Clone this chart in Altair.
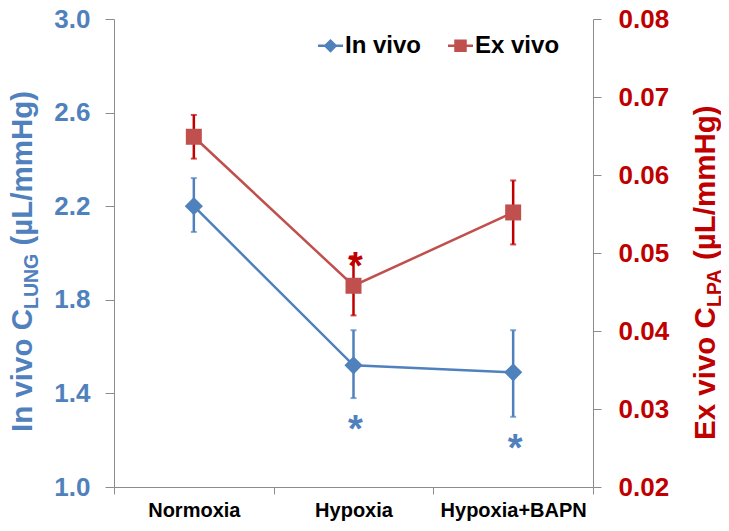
import altair as alt
import pandas as pd

# ---- data ----
cats = ["Normoxia", "Hypoxia", "Hypoxia+BAPN"]
series_names = ["In vivo", "Ex vivo"]

invivo = [2.20, 1.52, 1.49]
invivo_lo = [2.09, 1.38, 1.30]
invivo_hi = [2.32, 1.67, 1.67]

exvivo = [0.0649, 0.0458, 0.0552]
exvivo_lo = [0.0621, 0.0420, 0.0511]
exvivo_hi = [0.0677, 0.0496, 0.0593]

sig_invivo = ["", "*", "*"]
sig_exvivo = ["", "*", ""]

left_ticks = [1.0, 1.4, 1.8, 2.2, 2.6, 3.0]
right_ticks = [0.02, 0.03, 0.04, 0.05, 0.06, 0.07, 0.08]

# ---- styles ----
BLUE = "#4F81BD"
RED = "#C0504D"
DKRED = "#C00000"
GRAY = "#8C8C8C"
FONT = "Liberation Sans"

df = pd.DataFrame({
    "cat": cats,
    "iv": invivo, "iv_lo": invivo_lo, "iv_hi": invivo_hi,
    "ev": exvivo, "ev_lo": exvivo_lo, "ev_hi": exvivo_hi,
    "sig_iv": sig_invivo, "sig_ev": sig_exvivo,
})

one = pd.DataFrame({"k": [0]})

x_scale = alt.Scale(type="band", paddingInner=0, paddingOuter=0)
x_enc = alt.X(
    "cat:N", sort=cats, scale=x_scale,
    axis=alt.Axis(title=None, tickBand="extent", labelAngle=0, labelFontSize=20,
                  labelFontWeight="bold", labelColor="black", labelFont=FONT,
                  tickColor=GRAY, domainColor=GRAY, tickSize=7, labelPadding=6,
                  grid=False),
)
xs = alt.X("cat:N", sort=cats)

yl_scale = alt.Scale(domain=[1.0, 3.0], nice=False, zero=False)
yr_scale = alt.Scale(domain=[0.02, 0.08], nice=False, zero=False)

left_axis = alt.Axis(orient="left", values=left_ticks, format=".1f", labelColor=BLUE,
                     labelFontSize=26, labelFontWeight="bold", labelFont=FONT,
                     tickSize=9, tickColor=GRAY, domainColor=GRAY, labelPadding=15,
                     grid=False, title=None, labelOverlap=False, labelFlush=False)
right_axis = alt.Axis(orient="right", values=right_ticks, format=".2f", labelColor=DKRED,
                      labelFontSize=26, labelFontWeight="bold", labelFont=FONT,
                      tickSize=8, tickColor=GRAY, domainColor=GRAY, labelPadding=17,
                      grid=False, title=None, labelOverlap=False, labelFlush=False)

base = alt.Chart(df)

# ---- in vivo (left axis) ----
iv_line = base.mark_line(color=BLUE, strokeWidth=2.5).encode(
    x=x_enc, y=alt.Y("iv:Q", scale=yl_scale, axis=left_axis))
iv_err = base.mark_rule(color=BLUE, strokeWidth=2.5).encode(
    x=xs, y=alt.Y("iv_lo:Q"), y2="iv_hi:Q")
iv_cap_lo = base.mark_tick(color=BLUE, thickness=2, size=6).encode(x=xs, y="iv_lo:Q")
iv_cap_hi = base.mark_tick(color=BLUE, thickness=2, size=6).encode(x=xs, y="iv_hi:Q")
iv_pts = base.mark_point(shape="diamond", filled=True, opacity=1, color=BLUE, size=330).encode(
    x=xs, y="iv:Q")
iv_star = base.mark_text(fontSize=38, fontWeight="bold", font=FONT, color=BLUE,
                         baseline="alphabetic", dy=44, dx=2).encode(
    x=xs, y="iv_lo:Q", text="sig_iv:N")

shape_paths = [
    "M-1,-0.1H1V0.1H-1Z M0,-0.55L0.55,0L0,0.55L-0.55,0Z",
    "M-1,-0.1H1V0.1H-1Z M-0.5,-0.5H0.5V0.5H-0.5Z",
]
leg = alt.Legend(title=None, orient="none", legendX=204, legendY=14, direction="horizontal",
                 symbolSize=625, symbolOpacity=1, symbolStrokeWidth=0, labelFontSize=24,
                 labelFont=FONT, labelFontWeight="bold", labelColor="black", labelOffset=2,
                 columnPadding=26, padding=0)
leg_df = pd.DataFrame({"series": series_names, "cat": [cats[0], cats[0]], "v": [invivo[0], invivo[0]]})
legend_layer = alt.Chart(leg_df).mark_point(filled=True, opacity=0, size=625).encode(
    x=xs, y="v:Q",
    color=alt.Color("series:N", sort=series_names,
                    scale=alt.Scale(domain=series_names, range=[BLUE, RED]), legend=leg),
    shape=alt.Shape("series:N", sort=series_names,
                    scale=alt.Scale(domain=series_names, range=shape_paths), legend=leg),
)

# composed left title with subscript
tl = alt.Chart(one)
lt1 = tl.mark_text(text="In vivo C", angle=270, align="left", baseline="alphabetic",
                   fontSize=29.5, fontWeight="bold", font=FONT, color=BLUE).encode(
    x=alt.value(-82), y=alt.value(413))
lt2 = tl.mark_text(text="LUNG", angle=270, align="left", baseline="alphabetic",
                   fontSize=19.5, fontWeight="bold", font=FONT, color=BLUE).encode(
    x=alt.value(-76), y=alt.value(290))
lt3 = tl.mark_text(text="(µL/mmHg)", angle=270, align="left", baseline="alphabetic",
                   fontSize=29.5, fontWeight="bold", font=FONT, color=BLUE).encode(
    x=alt.value(-82), y=alt.value(226.6))

left = alt.layer(iv_line, iv_err, iv_cap_lo, iv_cap_hi, iv_pts, iv_star, legend_layer, lt1, lt2, lt3)

# ---- ex vivo (right axis) ----
ev_line = base.mark_line(color=RED, strokeWidth=2.5).encode(
    x=xs, y=alt.Y("ev:Q", scale=yr_scale, axis=right_axis))
ev_err = base.mark_rule(color=DKRED, strokeWidth=2.5).encode(
    x=xs, y=alt.Y("ev_lo:Q"), y2="ev_hi:Q")
ev_cap_lo = base.mark_tick(color=DKRED, thickness=2, size=6).encode(x=xs, y="ev_lo:Q")
ev_cap_hi = base.mark_tick(color=DKRED, thickness=2, size=6).encode(x=xs, y="ev_hi:Q")
ev_pts = base.mark_point(shape="square", filled=True, opacity=1, color=RED, size=256).encode(
    x=xs, y="ev:Q")
ev_star = base.mark_text(fontSize=38, fontWeight="bold", font=FONT, color=DKRED,
                         baseline="alphabetic", dy=23, dx=2).encode(
    x=xs, y="ev_hi:Q", text="sig_ev:N")

rt1 = tl.mark_text(text="Ex vivo C", angle=270, align="left", baseline="alphabetic",
                   fontSize=29.5, fontWeight="bold", font=FONT, color=DKRED).encode(
    x=alt.value(601), y=alt.value(421))
rt2 = tl.mark_text(text="LPA", angle=270, align="left", baseline="alphabetic",
                   fontSize=19.5, fontWeight="bold", font=FONT, color=DKRED).encode(
    x=alt.value(607), y=alt.value(288))
rt3 = tl.mark_text(text="(µL/mmHg)", angle=270, align="left", baseline="alphabetic",
                   fontSize=29.5, fontWeight="bold", font=FONT, color=DKRED).encode(
    x=alt.value(601), y=alt.value(241))

right = alt.layer(ev_line, ev_err, ev_cap_lo, ev_cap_hi, ev_pts, ev_star, rt1, rt2, rt3)

chart = alt.layer(left, right).resolve_scale(y="independent").properties(
    width=479, height=468,
    padding={"left": 106, "top": 11, "right": 128, "bottom": 36},
    autosize=alt.AutoSizeParams(type="none"),
).configure(font=FONT).configure_view(stroke=None)

chart.save("out.html", embed_options={"renderer": "svg", "actions": False})
